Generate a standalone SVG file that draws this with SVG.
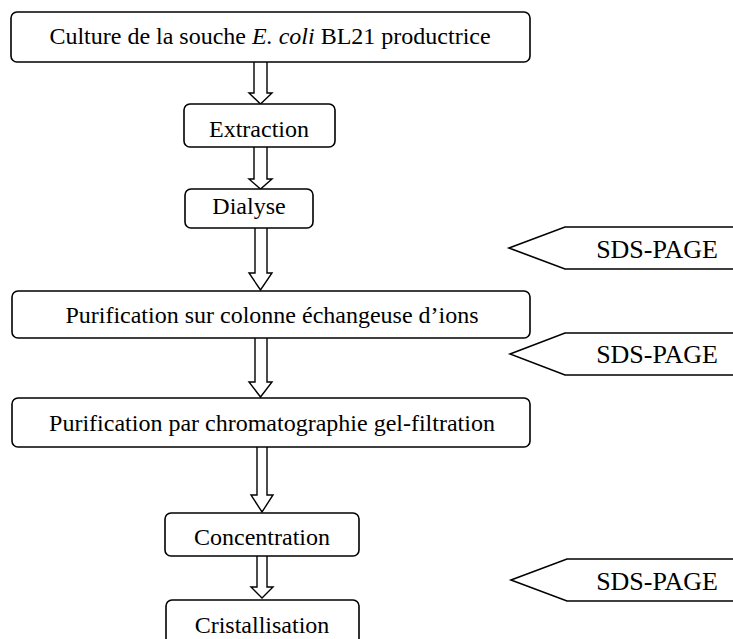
<svg xmlns="http://www.w3.org/2000/svg" width="733" height="639" viewBox="0 0 733 639">
<style>
.box{fill:#fff;stroke:#000;stroke-width:1.6}
.arr{fill:#fff;stroke:#000;stroke-width:1.4;stroke-linejoin:miter}
.tag{fill:#fff;stroke:#000;stroke-width:1.6}
text{font-family:"Liberation Serif","Times New Roman",serif;font-size:24px;fill:#000;text-anchor:middle}
.sds{font-size:26px;text-anchor:end}
</style>
<rect width="733" height="639" fill="#fff"/>
<g id="connectors">
<path class="arr" d="M254,62 V93 H249 L260.5,104 L272,93 H267 V62"/>
<path class="arr" d="M254,147 V179 H249 L260.5,189 L272,179 H267 V147"/>
<path class="arr" d="M255,228 V273 H249 L260.5,290 L272,273 H267 V228"/>
<path class="arr" d="M255,338 V382 H249 L260.5,397 L272,382 H267 V338"/>
<path class="arr" d="M257,447 V495 H251 L262,512 L273,495 H267 V447"/>
<path class="arr" d="M257,556 V587 H251 L262,598 L273,587 H267 V556"/>
</g>
<g id="n1"><rect class="box" x="11" y="12" width="519" height="50" rx="6"/><text x="270" y="44">Culture de la souche <tspan font-style="italic">E. coli</tspan><tspan dx="6">BL21 productrice</tspan></text></g>
<g id="n2"><rect class="box" x="184" y="104" width="151" height="43" rx="6"/><text x="259" y="137">Extraction</text></g>
<g id="n3"><rect class="box" x="185" y="189" width="128" height="39" rx="6"/><text x="249" y="214">Dialyse</text></g>
<g id="n4"><rect class="box" x="12" y="291" width="518" height="47" rx="6"/><text x="272" y="323">Purification sur colonne échangeuse d’ions</text></g>
<g id="n5"><rect class="box" x="12" y="398" width="518" height="49" rx="6"/><text x="272" y="431">Purification par chromatographie gel-filtration</text></g>
<g id="n6"><rect class="box" x="165" y="513" width="194" height="43" rx="6"/><text x="262" y="545">Concentration</text></g>
<g id="n7"><rect class="box" x="166" y="600" width="193" height="50" rx="6"/><text x="262" y="633">Cristallisation</text></g>
<g id="sds1"><polygon class="tag" points="509,248 565,227 740,227 740,269 565,269"/><text class="sds" x="718" y="258">SDS-PAGE</text></g>
<g id="sds2"><polygon class="tag" points="510,354 565,333 740,333 740,375 565,375"/><text class="sds" x="718" y="363">SDS-PAGE</text></g>
<g id="sds3"><polygon class="tag" points="511,580 567,559 740,559 740,601 567,601"/><text class="sds" x="718" y="590">SDS-PAGE</text></g>
</svg>
